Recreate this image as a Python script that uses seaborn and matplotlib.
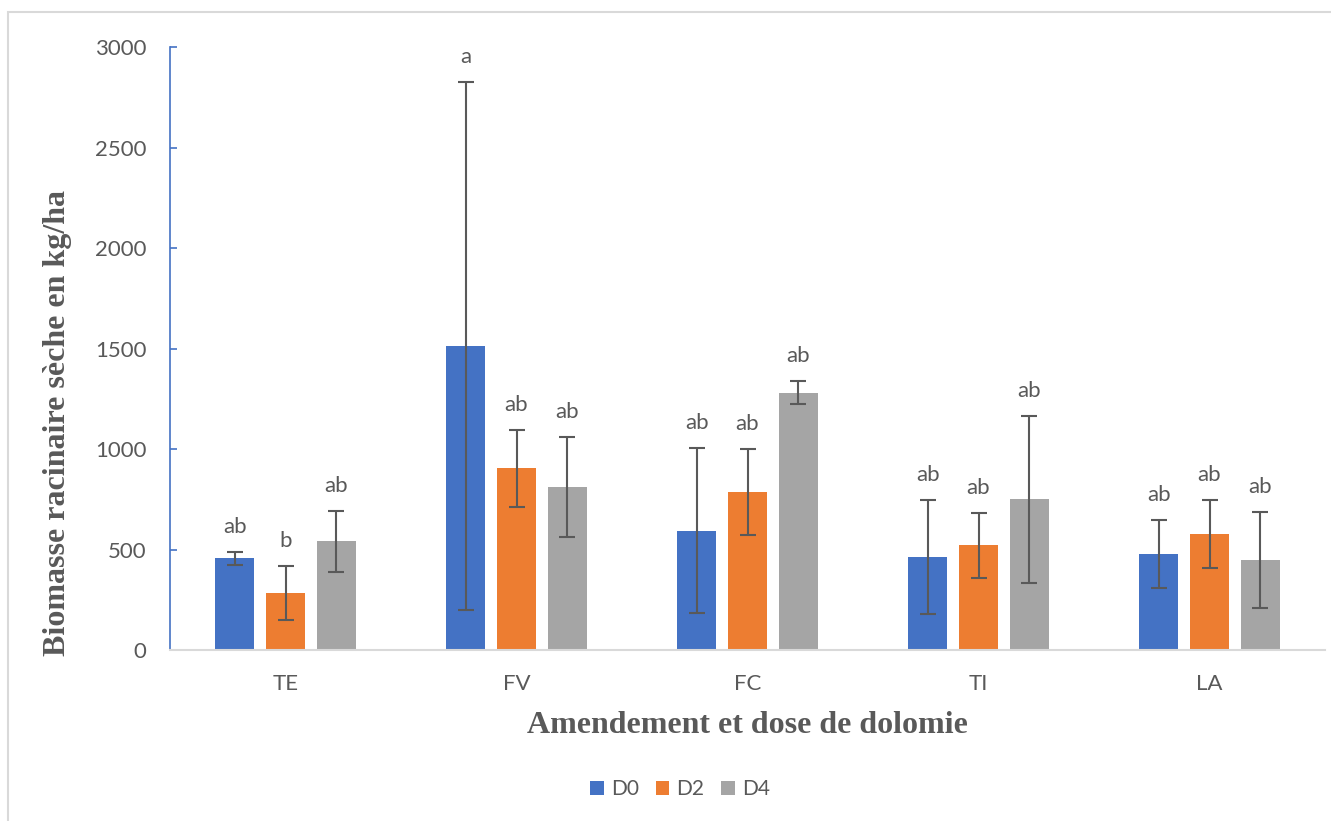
import matplotlib
matplotlib.use("Agg")
import matplotlib.pyplot as plt
from matplotlib.patches import Rectangle, Patch
import pandas as pd
import seaborn as sns

# Root dry biomass (kg/ha) by amendment and dolomite dose
amendements = ["TE", "FV", "FC", "TI", "LA"]
doses = ["D0", "D2", "D4"]
moy_D0 = [456, 1512, 594, 463, 478]
moy_D2 = [284, 905, 786, 521, 577]
moy_D4 = [540, 811, 1280, 750, 449]
err_D0 = [33, 1312, 412, 284, 168]
err_D2 = [136, 192, 215, 161, 170]
err_D4 = [150, 250, 56, 416, 240]
lettres_D0 = ["ab", "a", "ab", "ab", "ab"]
lettres_D2 = ["b", "ab", "ab", "ab", "ab"]
lettres_D4 = ["ab", "ab", "ab", "ab", "ab"]
y_ticks = [0, 500, 1000, 1500, 2000, 2500, 3000]

couleurs = {"D0": "#4472C4", "D2": "#ED7D31", "D4": "#A5A5A5"}
gris_texte = "#595959"

moyennes = {"D0": moy_D0, "D2": moy_D2, "D4": moy_D4}
erreurs = {"D0": err_D0, "D2": err_D2, "D4": err_D4}
lettres = {"D0": lettres_D0, "D2": lettres_D2, "D4": lettres_D4}

df = pd.DataFrame(
    [(a, d, moyennes[d][i]) for d in doses for i, a in enumerate(amendements)],
    columns=["Amendement", "Dose", "Biomasse"],
)

sns.set_style("white")
plt.rcParams["font.family"] = ["Lato", "DejaVu Sans"]

fig = plt.figure(figsize=(13.31, 8.21), dpi=100)
ax = fig.add_axes([170 / 1331, 1 - 650 / 821, (1325 - 170) / 1331, (650 - 47) / 821])

sns.barplot(
    data=df, x="Amendement", y="Biomasse", hue="Dose",
    order=amendements, hue_order=doses, palette=couleurs, saturation=1,
    width=0.66, gap=0.22, errorbar=None, linewidth=0, ax=ax,
)

# Error bars and significance letters on each bar
for dose, cont in zip(doses, ax.containers):
    xs = [b.get_x() + b.get_width() / 2 for b in cont]
    ax.errorbar(xs, moyennes[dose], yerr=erreurs[dose], fmt="none",
                ecolor=gris_texte, elinewidth=1.5, capsize=6, capthick=1.5, zorder=3)
    for x, m, e, t in zip(xs, moyennes[dose], erreurs[dose], lettres[dose]):
        ax.annotate(t, (x, m + e), xytext=(0, 18), textcoords="offset points",
                    ha="center", va="center", fontsize=16, color=gris_texte)

ax.set_ylim(0, 3000)
ax.set_yticks(y_ticks)
ax.set_xlim(-0.5, len(amendements) - 0.5)

for s in ["top", "right"]:
    ax.spines[s].set_visible(False)
ax.spines["left"].set_color("#4472C4")
ax.spines["left"].set_linewidth(1.2)
ax.spines["bottom"].set_color("#D9D9D9")
ax.spines["bottom"].set_linewidth(1.5)

ax.tick_params(axis="y", left=True, direction="in", length=5, width=1.2, color="#4472C4",
               labelsize=16, labelcolor=gris_texte, pad=17)
ax.tick_params(axis="x", bottom=False, length=0, labelsize=16, labelcolor=gris_texte, pad=17)

serif = ["Liberation Serif", "DejaVu Serif"]
ax.set_xlabel("Amendement et dose de dolomie", family=serif, fontweight="bold",
              fontsize=23, color=gris_texte)
ax.set_ylabel("Biomasse racinaire sèche en kg/ha", family=serif, fontweight="bold",
              fontsize=23, color=gris_texte)
ax.xaxis.set_label_coords((747 - 170) / 1155, (650 - 711) / 603)
ax.yaxis.set_label_coords((72 - 170) / 1155, (650 - 423) / 603)

ax.get_legend().remove()
handles = [Patch(facecolor=couleurs[d], edgecolor="none") for d in doses]
fig.legend(handles, doses, loc="center", bbox_to_anchor=(680 / 1331, 1 - 789 / 821),
           ncol=3, frameon=False, fontsize=15, labelcolor=gris_texte,
           handlelength=0.65, handleheight=0.65, handletextpad=0.35, columnspacing=0.8)

# Light frame around the chart area
fig.patches.append(Rectangle((8 / 1331, -0.05), 1.05, 1 - 12 / 821 + 0.05,
                             transform=fig.transFigure, fill=False,
                             edgecolor="#D9D9D9", linewidth=1.5))

fig.savefig("out.png", dpi=100, facecolor="white")
